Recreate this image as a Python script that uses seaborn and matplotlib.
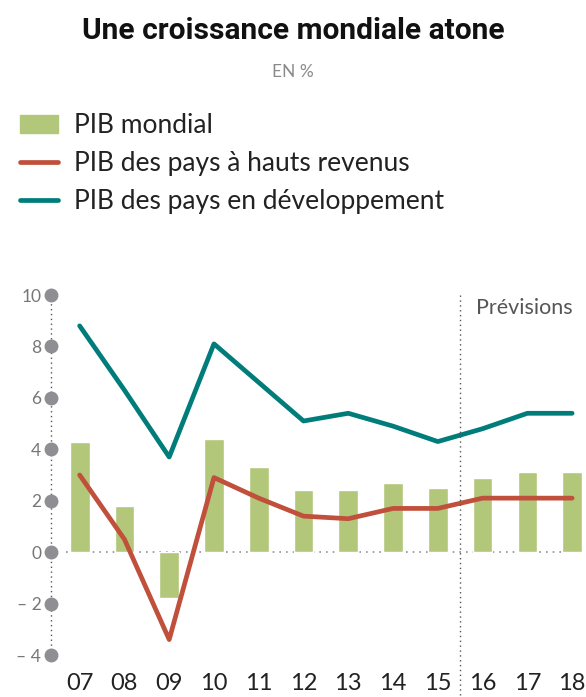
import matplotlib
matplotlib.use("Agg")
import matplotlib.pyplot as plt
from matplotlib.patches import Patch
from matplotlib.lines import Line2D
from matplotlib import font_manager
import seaborn as sns
import numpy as np
import pandas as pd

# data
annees = ["07", "08", "09", "10", "11", "12", "13", "14", "15", "16", "17", "18"]
pib_mondial = [4.3, 1.8, -1.8, 4.4, 3.3, 2.4, 2.4, 2.7, 2.5, 2.9, 3.1, 3.1]
pib_hauts_revenus = [3.0, 0.5, -3.4, 2.9, 2.1, 1.4, 1.3, 1.7, 1.7, 2.1, 2.1, 2.1]
pib_developpement = [8.8, 6.3, 3.7, 8.1, 6.6, 5.1, 5.4, 4.9, 4.3, 4.8, 5.4, 5.4]
yticks = [10, 8, 6, 4, 2, 0, -2, -4]
ytick_labels = ["10", "8", "6", "4", "2", "0", "\u2013 2", "\u2013 4"]

VERT = "#b3c77b"
ROUGE = "#c0503b"
TEAL = "#007d7a"
GRIS = "#8e8e93"

sns.set_style("white")
plt.rcParams["font.family"] = ["Lato", "DejaVu Sans"]

# narrow font for the title if there is one
noms = {f.name for f in font_manager.fontManager.ttflist}
titre_font = "Liberation Sans Narrow" if "Liberation Sans Narrow" in noms else "Roboto"

df = pd.DataFrame({"annee": annees, "pos": np.arange(len(annees)),
                   "mondial": pib_mondial, "hauts": pib_hauts_revenus,
                   "dev": pib_developpement})

fig = plt.figure(figsize=(5.86, 6.97), dpi=100)
ax = fig.add_axes([51 / 586, 1 - 655 / 697, 1 - 51 / 586, (655 - 295) / 697])

sns.barplot(data=df, x="annee", y="mondial", color=VERT, width=0.44,
            saturation=1, ax=ax)
sns.lineplot(data=df, x="pos", y="hauts", color=ROUGE, lw=3.4, ax=ax)
sns.lineplot(data=df, x="pos", y="dev", color=TEAL, lw=3.4, ax=ax)

ax.set_xlim(-0.64, 11.31)
ax.set_ylim(-4, 10)
sns.despine(ax=ax, left=True, bottom=True)
ax.set_xlabel("")
ax.set_ylabel("")

# zero line
ax.plot([-0.3, 11.3], [0, 0], ls=(0, (1, 3)), color=GRIS, lw=1.2, zorder=0.5)
# dotted y axis with dot markers
x0 = -0.64
ax.plot([x0, x0], [-4, 10], ls=(0, (1, 2.5)), color="#555555", lw=1,
        clip_on=False)
ax.plot([x0] * len(yticks), yticks, "o", ms=9, color=GRIS, clip_on=False,
        zorder=5)

ax.set_yticks(yticks)
ax.set_yticklabels(ytick_labels, color="#777777", fontsize=12.5)
ax.tick_params(axis="y", length=0, pad=7)
ax.set_xticks(range(len(annees)))
ax.set_xticklabels(annees, color="#222222", fontsize=17)
ax.tick_params(axis="x", length=0, pad=13)

# forecast separator
ax.plot([8.5, 8.5], [10, -5.6], ls=(0, (1, 2.5)), color="#555555", lw=1,
        clip_on=False)
ax.text(8.86, 9.5, "Prévisions", color="#555555", fontsize=15.5,
        va="center", ha="left")

fig.text(0.5, 0.956, "Une croissance mondiale atone", ha="center",
         va="center", fontsize=21.5, fontweight="bold",
         family=[titre_font, "DejaVu Sans"], color="#111111")
fig.text(0.5, 0.896, "EN %", ha="center", va="center", fontsize=12.5,
         color="#8a8a8a")

handles = [Patch(color=VERT),
           Line2D([], [], color=ROUGE, lw=3.4),
           Line2D([], [], color=TEAL, lw=3.4)]
labels = ["PIB mondial", "PIB des pays à hauts revenus",
          "PIB des pays en développement"]
fig.legend(handles, labels, loc="upper left",
           bbox_to_anchor=(20 / 586, 1 - 113 / 697), frameon=False,
           fontsize=19, handlelength=1.45, handleheight=0.7,
           handletextpad=0.6, labelspacing=0.5, borderpad=0,
           borderaxespad=0, labelcolor="#222222")

fig.savefig("out.png", dpi=100)
